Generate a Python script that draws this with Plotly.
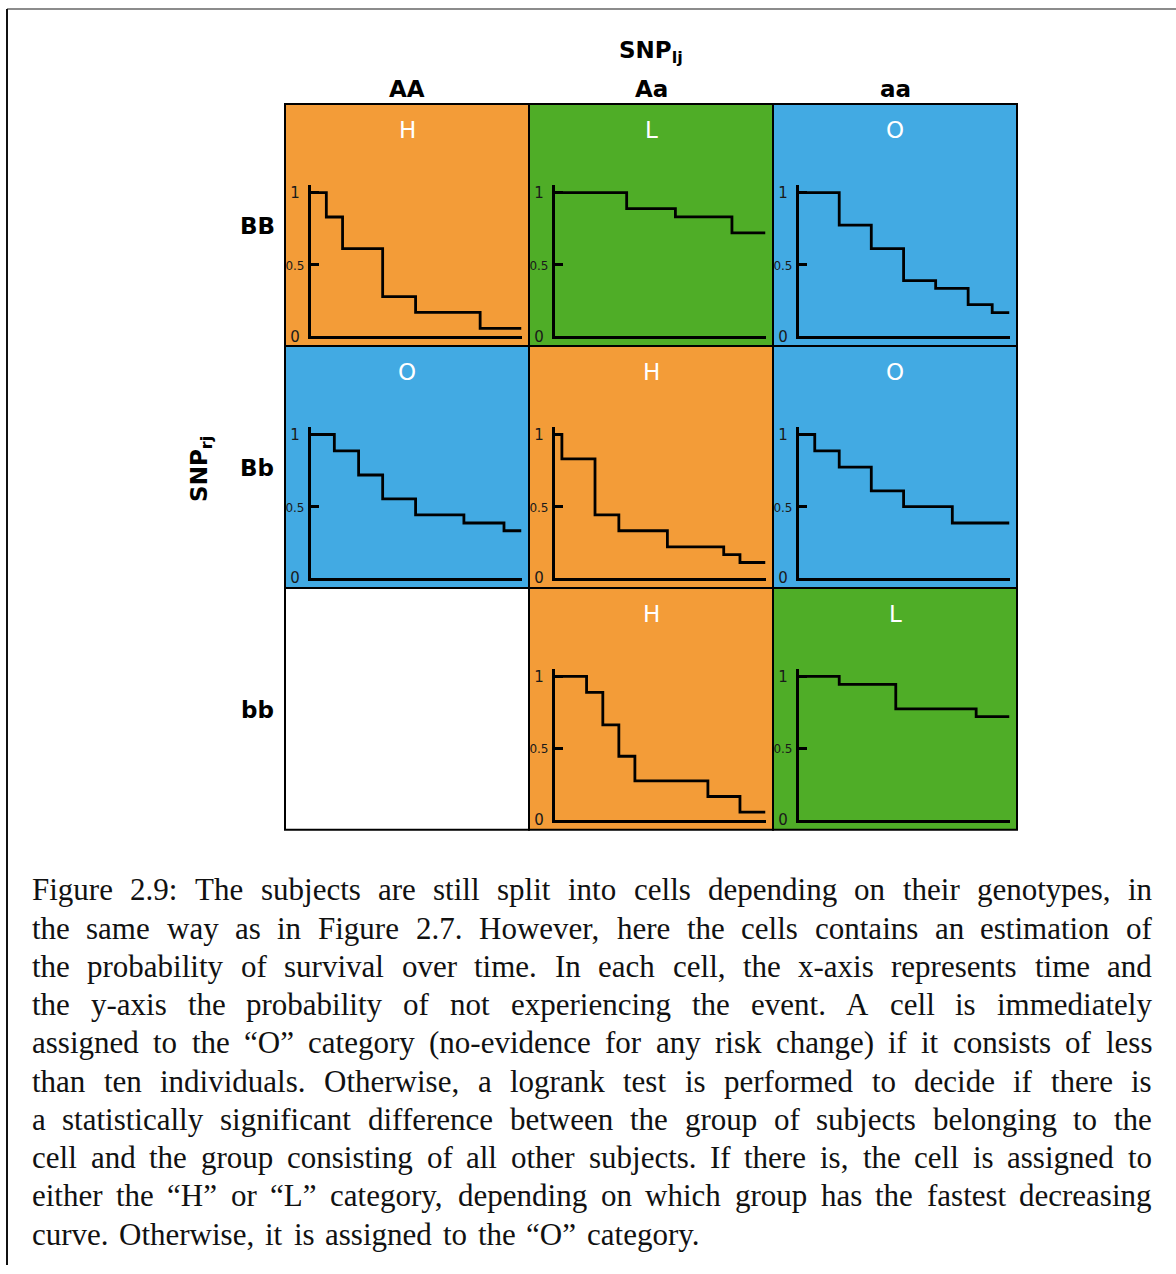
import plotly.graph_objects as go

W, H = 1176, 1274

# ---------------- data ----------------
col_genotypes = ["AA", "Aa", "aa"]
row_genotypes = ["BB", "Bb", "bb"]
cell_categories = [["H", "L", "O"],
                   ["O", "H", "O"],
                   [None, "H", "L"]]
category_colors = {"H": "#F39C38", "L": "#4FAD27", "O": "#42AAE3", None: "#FFFFFF"}

y_tick_values = [0, 0.5, 1]

# Kaplan-Meier style survival curves (time 0-100, survival probability)
time_BB_AA = [0, 7.5, 15.2, 34.2, 49.8, 80.4, 100]
surv_BB_AA = [1.0, 0.83, 0.61, 0.276, 0.166, 0.055, 0.055]

time_BB_Aa = [0, 34.2, 57.3, 84.1, 100]
surv_BB_Aa = [1.0, 0.888, 0.831, 0.72, 0.72]

time_BB_aa = [0, 19.3, 34.5, 49.8, 65.0, 80.4, 91.8, 100]
surv_BB_aa = [1.0, 0.774, 0.61, 0.387, 0.333, 0.221, 0.164, 0.164]

time_Bb_AA = [0, 11.3, 22.8, 34.2, 49.8, 72.7, 91.7, 100]
surv_Bb_AA = [1.0, 0.886, 0.718, 0.552, 0.441, 0.384, 0.33, 0.33]

time_Bb_Aa = [0, 3.5, 19.2, 30.5, 53.5, 80.2, 87.9, 100]
surv_Bb_Aa = [1.0, 0.83, 0.441, 0.33, 0.218, 0.164, 0.109, 0.109]

time_Bb_aa = [0, 7.7, 19.3, 34.5, 49.8, 72.9, 100]
surv_Bb_aa = [1.0, 0.886, 0.773, 0.607, 0.498, 0.384, 0.384]

time_bb_Aa = [0, 15.2, 22.9, 30.5, 38.1, 72.7, 87.9, 100]
surv_bb_Aa = [1.0, 0.888, 0.663, 0.444, 0.273, 0.164, 0.055, 0.055]

time_bb_aa = [0, 19.3, 46.1, 84.2, 100]
surv_bb_aa = [1.0, 0.945, 0.774, 0.72, 0.72]

curves = {
    (0, 0): (time_BB_AA, surv_BB_AA),
    (0, 1): (time_BB_Aa, surv_BB_Aa),
    (0, 2): (time_BB_aa, surv_BB_aa),
    (1, 0): (time_Bb_AA, surv_Bb_AA),
    (1, 1): (time_Bb_Aa, surv_Bb_Aa),
    (1, 2): (time_Bb_aa, surv_Bb_aa),
    (2, 1): (time_bb_Aa, surv_bb_Aa),
    (2, 2): (time_bb_aa, surv_bb_aa),
}

caption_lines = [
    "Figure 2.9: The subjects are still split into cells depending on their genotypes, in",
    "the same way as in Figure 2.7. However, here the cells contains an estimation of",
    "the probability of survival over time. In each cell, the x-axis represents time and",
    "the y-axis the probability of not experiencing the event.  A cell is immediately",
    "assigned to the \u201cO\u201d category (no-evidence for any risk change) if it consists of less",
    "than ten individuals. Otherwise, a logrank test is performed to decide if there is",
    "a statistically significant difference between the group of subjects belonging to the",
    "cell and the group consisting of all other subjects. If there is, the cell is assigned to",
    "either the \u201cH\u201d or \u201cL\u201d category, depending on which group has the fastest decreasing",
    "curve. Otherwise, it is assigned to the \u201cO\u201d category.",
]

# ---------------- layout helpers ----------------
GRID_LEFT, GRID_TOP, CELL = 285, 103, 244
SANS = "DejaVu Sans"
SERIF = "Liberation Serif"


def px(x):
    return x / W


def py(y):
    return 1 - y / H


fig = go.Figure()
shapes = []
annotations = []

# frame around the figure
shapes.append(dict(type="line", xref="paper", yref="paper", x0=px(7), x1=px(W), y0=py(7), y1=py(7),
                   line=dict(color="#666666", width=1.5)))
shapes.append(dict(type="line", xref="paper", yref="paper", x0=px(7), x1=px(7), y0=py(7), y1=py(H),
                   line=dict(color="#111111", width=2)))

# cells
for r in range(3):
    for c in range(3):
        cx, ct = GRID_LEFT + CELL * c, GRID_TOP + CELL * r
        cat = cell_categories[r][c]
        shapes.append(dict(type="rect", xref="paper", yref="paper", layer="below",
                           x0=px(cx), x1=px(cx + CELL), y0=py(ct + CELL), y1=py(ct),
                           fillcolor=category_colors[cat], line=dict(color="black", width=2)))
        if cat:
            annotations.append(dict(xref="paper", yref="paper", x=px(cx + CELL / 2), y=py(ct + 26),
                                    text=cat, showarrow=False, xanchor="center", yanchor="middle",
                                    font=dict(family=SANS, size=23, color="white")))

# survival axes + curves
tick_text = ["0\u2008", '<span style="font-size:12px">0.5</span>', "1\u2008"]
k = 0
for (r, c), (t, s) in curves.items():
    k += 1
    sfx = "" if k == 1 else str(k)
    cx, ct = GRID_LEFT + CELL * c, GRID_TOP + CELL * r
    fig.add_trace(go.Scatter(x=t, y=s, mode="lines", line=dict(color="black", width=2.8, shape="hv"),
                             xaxis="x" + sfx, yaxis="y" + sfx, showlegend=False, hoverinfo="skip"))
    fig.layout["xaxis" + sfx] = dict(
        domain=[px(cx + 25.5), px(cx + 236.5)], range=[0, 100], anchor="y" + sfx,
        showline=True, linecolor="black", linewidth=3, showgrid=False, zeroline=False,
        showticklabels=False, ticks="", fixedrange=True)
    fig.layout["yaxis" + sfx] = dict(
        domain=[py(ct + 234.2), py(ct + 82)], range=[0, 1.05], anchor="x" + sfx,
        showline=True, linecolor="black", linewidth=3, showgrid=False, zeroline=False,
        tickvals=y_tick_values, ticktext=tick_text, ticks="inside", ticklen=8, tickwidth=2.5,
        tickcolor="black", tickfont=dict(family=SANS, size=15, color="#1a1a1a"), fixedrange=True)

# headers
bold = dict(family=SANS, size=23, color="black", weight="bold")
annotations.append(dict(xref="paper", yref="paper", x=px(651), y=py(50), text="SNP<sub>lj</sub>",
                        showarrow=False, xanchor="center", yanchor="middle", font=bold))
for c, g in enumerate(col_genotypes):
    annotations.append(dict(xref="paper", yref="paper", x=px(GRID_LEFT + CELL * c + CELL / 2), y=py(88),
                            text=g, showarrow=False, xanchor="center", yanchor="middle", font=bold))
for r, g in enumerate(row_genotypes):
    annotations.append(dict(xref="paper", yref="paper", x=px(257), y=py(GRID_TOP + CELL * r + CELL / 2 + 1),
                            text=g, showarrow=False, xanchor="center", yanchor="middle", font=bold))
annotations.append(dict(xref="paper", yref="paper", x=px(201), y=py(471), text="SNP<sub>rj</sub>",
                        showarrow=False, xanchor="center", yanchor="middle", textangle=-90, font=bold))

# caption, justified word by word (Times-compatible metrics)
CAP_SIZE = 31
CAP_LEFT, CAP_RIGHT = 32, 1152
BASE0, LEAD = 906, 38.6
tw = {" ": 250, ".": 250, ",": 250, ":": 278, "-": 333, "(": 333, ")": 333,
      "\u201c": 444, "\u201d": 444,
      "A": 722, "C": 667, "F": 556, "H": 722, "I": 333, "L": 611, "O": 722, "T": 611,
      "a": 444, "b": 500, "c": 444, "d": 500, "e": 444, "f": 333, "g": 500, "h": 500, "i": 278,
      "j": 278, "k": 500, "l": 278, "m": 778, "n": 500, "o": 500, "p": 500, "q": 500, "r": 333,
      "s": 389, "t": 278, "u": 500, "v": 500, "w": 722, "x": 500, "y": 500, "z": 444}


def wwidth(word):
    return sum(tw.get(ch, 500) for ch in word) * CAP_SIZE / 1000


for i, line in enumerate(caption_lines):
    words = line.split()
    widths = [wwidth(w_) for w_ in words]
    if i < len(caption_lines) - 1 and len(words) > 1:
        gap = (CAP_RIGHT - CAP_LEFT - sum(widths)) / (len(words) - 1)
    else:
        gap = 250 * CAP_SIZE / 1000 * 1.4
    xpos = CAP_LEFT
    ycen = BASE0 + LEAD * i - 0.3375 * CAP_SIZE
    for w_, wd in zip(words, widths):
        annotations.append(dict(xref="paper", yref="paper", x=px(xpos), y=py(ycen), text=w_,
                                showarrow=False, xanchor="left", yanchor="middle",
                                borderpad=0, borderwidth=0,
                                font=dict(family=SERIF, size=CAP_SIZE, color="#111111")))
        xpos += wd + gap

fig.update_layout(width=W, height=H, margin=dict(l=0, r=0, t=0, b=0),
                  paper_bgcolor="white", plot_bgcolor="rgba(0,0,0,0)",
                  shapes=shapes, annotations=annotations, showlegend=False)

fig.write_html("out.html", config={"displayModeBar": False})
